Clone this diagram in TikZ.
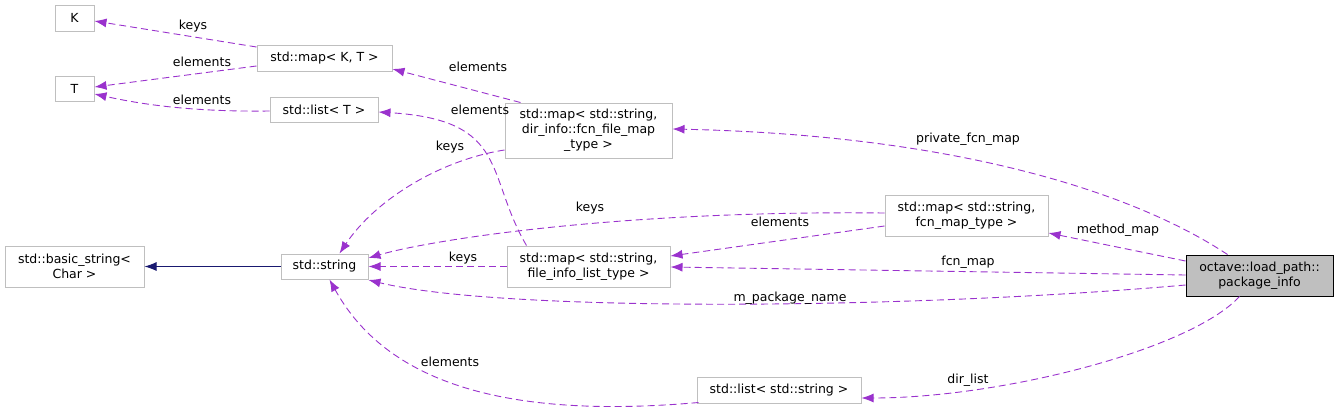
\documentclass[tikz,border=0pt]{standalone}
\usepackage{fontspec}
\setmainfont{DejaVu Sans}
\usepackage{tikz}
\usetikzlibrary{arrows.meta,calc,positioning}
\definecolor{memcol}{HTML}{9A32CD}
\definecolor{inhcol}{HTML}{191970}
\definecolor{boxgray}{HTML}{BFBFBF}

\begin{document}
\begin{tikzpicture}[x=1pt,y=-1pt,
    cls/.style={draw=boxgray,fill=white,line width=1pt,inner sep=1pt,align=center,
      font=\fontsize{12.5}{15}\selectfont},
    lbl/.style={inner sep=0pt,font=\fontsize{12.5}{15}\selectfont},
    mem/.style={draw=memcol,dashed,dash pattern=on 7pt off 4pt,line width=0.9pt,
      -{Latex[length=12pt,width=9pt]}},
    inh/.style={draw=inhcol,line width=0.9pt,-{Latex[length=12pt,width=9pt]}}]
        \useasboundingbox (0,0) rectangle (1339,413);
        %Classes
        \node[cls,minimum width=39,minimum height=26] (kk) at (74.5,18) {K};
        \node[cls,minimum width=39,minimum height=25] (tt) at (74.5,88.5) {T};
        \node[cls,minimum width=135,minimum height=26] (mapkt) at (324.5,58) {std::map< K, T >};
        \node[cls,minimum width=108,minimum height=25] (listt) at (324,109.5) {std::list< T >};
        \node[cls,minimum width=167,minimum height=55] (fcnfile) at (588.5,130.5)
          {std::map< std::string,\\ dir\_info::fcn\_file\_map\\ \_type >};
        \node[cls,minimum width=139,minimum height=41] (basicstr) at (74.5,266.5) {std::basic\_string<\\ Char >};
        \node[cls,minimum width=87,minimum height=25] (str) at (324.5,266.5) {std::string};
        \node[cls,minimum width=163,minimum height=41] (fileinfo) at (588.5,266.5)
          {std::map< std::string,\\ file\_info\_list\_type >};
        \node[cls,minimum width=163,minimum height=41] (fcnmap) at (966.5,215.5)
          {std::map< std::string,\\ fcn\_map\_type >};
        \node[cls,draw=black,fill=boxgray,minimum width=147,minimum height=41] (pkginfo) at (1259.5,275.5)
          {octave::load\_path::\\ package\_info};
        \node[cls,minimum width=164,minimum height=26] (liststr) at (779,390) {std::list< std::string >};
        %Inheritance
        \draw[inh] (str) -- (basicstr);
        %Members
        \draw[mem] (mapkt.west |- 0,47) -- (kk.east |- 0,21);
        \draw[mem] (mapkt.west |- 0,66) -- (tt.east |- 0,87);
        \draw[mem] (listt.west |- 0,111) .. controls (190,112) and (140,104) .. (tt.east |- 0,94);
        \draw[mem] ($(fcnfile.north west)+(16,0)$) -- (mapkt.east |- 0,69);
        \draw[mem] ($(fileinfo.north west)+(20,0)$) .. controls (485,175) and (510,120) .. (listt.east |- 0,112);
        \draw[mem] (fcnfile.west |- 0,150) .. controls (440,160) and (375,200) .. ($(str.north)+(15,0)$);
        \draw[mem] (fcnmap.west |- 0,213) .. controls (620,210) and (430,240) .. (str.east |- 0,258);
        \draw[mem] (fileinfo) -- (str);
        \draw[mem] (pkginfo.west |- 0,285) .. controls (900,310) and (500,312) .. (str.east |- 0,280);
        \draw[mem] ($(liststr.south west)+(2,-1)$) .. controls (500,420) and (385,380) .. ($(str.south)+(5,0)$);
        \draw[mem] (fcnmap.west |- 0,226) -- (fileinfo.east |- 0,256);
        \draw[mem] (pkginfo.west |- 0,275) -- (fileinfo.east |- 0,267);
        \draw[mem] (pkginfo.west |- 0,261) -- (fcnmap.east |- 0,233);
        \draw[mem] ($(pkginfo.north west)+(42,0)$) .. controls (1130,190) and (950,135) .. (fcnfile.east |- 0,129);
        \draw[mem] ($(pkginfo.south west)+(54,0)$) .. controls (1190,350) and (1000,398) .. (liststr.east |- 0,398);
        %Labels
        \node[lbl] (lkeysk) at (193,26) {keys};
        \node[lbl] (lelemkt) at (202,62) {elements};
        \node[lbl] (lelemlt) at (202,100) {elements};
        \node[lbl] (lelemff) at (478,67) {elements};
        \node[lbl] (lelemfl) at (480,110) {elements};
        \node[lbl] (lkeysff) at (450,147) {keys};
        \node[lbl] (lkeysfm) at (590,208) {keys};
        \node[lbl] (lkeysfi) at (463,258) {keys};
        \node[lbl] (lelemfm) at (780,222) {elements};
        \node[lbl] (lpriv) at (968,139) {private\_fcn\_map};
        \node[lbl] (lmeth) at (1118,230) {method\_map};
        \node[lbl] (lfcn) at (968,262) {fcn\_map};
        \node[lbl] (lpkg) at (790,298) {m\_package\_name};
        \node[lbl] (lelemls) at (450,362) {elements};
        \node[lbl] (ldir) at (968,380) {dir\_list};
\end{tikzpicture}
\end{document}
